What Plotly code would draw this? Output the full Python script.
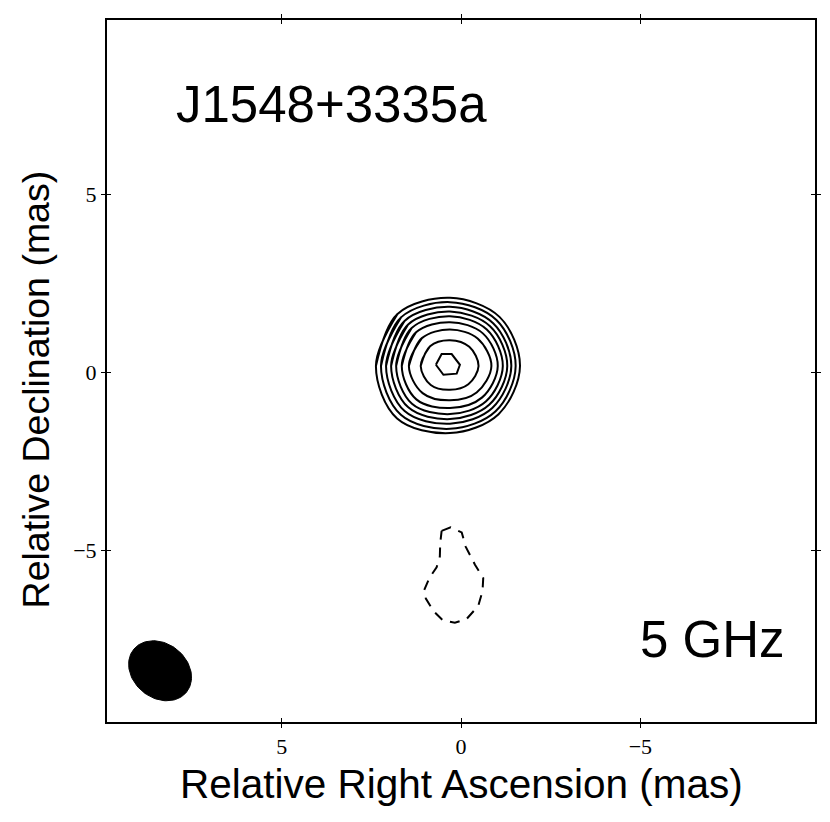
import numpy as np
import plotly.graph_objects as go

# ---------------- data ----------------
# Positive contours: centre of the component (mas) and the radius (mas)
# of each closed contour, read along 8 directions
# (angle measured from +RA / east towards north, in degrees)
SRC_X, SRC_Y = 0.307, 0.176
DIR_DEG = [0, 45, 90, 135, 180, 225, 270, 315]
RING_RADII = [
    [2.065, 2.070, 1.915, 1.952, 1.952, 1.915, 1.887, 2.085],
    [1.924, 1.932, 1.794, 1.831, 1.831, 1.799, 1.766, 1.938],
    [1.783, 1.792, 1.662, 1.701, 1.710, 1.668, 1.625, 1.789],
    [1.642, 1.651, 1.530, 1.580, 1.597, 1.545, 1.493, 1.645],
    [1.501, 1.510, 1.400, 1.451, 1.473, 1.413, 1.352, 1.499],
    [1.344, 1.338, 1.231, 1.296, 1.332, 1.258, 1.183, 1.327],
    [1.146, 1.107, 1.023, 1.089, 1.155, 1.051, 0.966, 1.079],
    [0.817, 0.786, 0.724, 0.761, 0.797, 0.724, 0.668, 0.758],
]
# innermost (peak) contour, vertices in mas
PEAK_X = [0.70, 0.54, 0.26, 0.03, 0.12, 0.49, 0.70]
PEAK_Y = [0.21, 0.51, 0.51, 0.21, -0.04, -0.07, 0.21]

# negative (dashed) contour, vertices in mas
NEG_X = [0.54, 0.29, -0.02, -0.13, -0.39, -0.62, -0.60, -0.48, -0.16, 0.17,
         0.51, 0.77, 0.98, 1.03, 0.88, 0.68, 0.59, 0.58, 0.54]
NEG_Y = [-4.46, -4.36, -4.50, -4.90, -5.41, -5.78, -6.15, -6.57, -6.93, -7.04,
         -6.97, -6.71, -6.36, -6.13, -5.78, -5.48, -5.18, -4.81, -4.46]

# restoring beam: centre (mas), semi-axes (mas), position angle (deg)
BEAM_X, BEAM_Y = 8.39, -8.39
BEAM_A, BEAM_B, BEAM_PA = 0.95, 0.76, 50.0

SOURCE_NAME = "J1548+3335a"
FREQ_LABEL = "5 GHz"
X_TICKS = [5, 0, -5]
Y_TICKS = [-5, 0, 5]
X_RANGE = [9.87, -9.87]
Y_RANGE = [-9.83, 9.90]

# ---------------- figure ----------------
fig = go.Figure()

ang = np.deg2rad(DIR_DEG)
for radii in RING_RADII:
    r = np.array(radii)
    xs = SRC_X + r * np.cos(ang)
    ys = SRC_Y + r * np.sin(ang)
    # wrap two points so the spline closes smoothly
    xs = np.concatenate([xs, xs[:2]])
    ys = np.concatenate([ys, ys[:2]])
    fig.add_trace(go.Scatter(x=xs, y=ys, mode="lines",
                             line=dict(color="black", width=2, shape="spline", smoothing=1.0),
                             hoverinfo="skip", showlegend=False))

fig.add_trace(go.Scatter(x=PEAK_X, y=PEAK_Y, mode="lines",
                         line=dict(color="black", width=2),
                         hoverinfo="skip", showlegend=False))

fig.add_trace(go.Scatter(x=NEG_X, y=NEG_Y, mode="lines",
                         line=dict(color="black", width=2, dash="10px,8px"),
                         hoverinfo="skip", showlegend=False))

t = np.linspace(0, 2 * np.pi, 100)
pa = np.deg2rad(BEAM_PA)
u = BEAM_A * np.cos(t)
v = BEAM_B * np.sin(t)
bx = BEAM_X + u * np.sin(pa) + v * np.cos(pa)
by = BEAM_Y + u * np.cos(pa) - v * np.sin(pa)
fig.add_trace(go.Scatter(x=bx, y=by, mode="lines", fill="toself",
                         fillcolor="black", line=dict(color="black", width=1),
                         hoverinfo="skip", showlegend=False))

# invisible trace on the overlay axes (inner ticks)
fig.add_trace(go.Scatter(x=[0], y=[0], xaxis="x2", yaxis="y2", mode="markers",
                         marker=dict(opacity=0), hoverinfo="skip", showlegend=False))

tick_font = dict(family="Liberation Serif, DejaVu Serif, serif", size=22, color="black")
common = dict(showgrid=False, zeroline=False, showline=True, linecolor="black",
              linewidth=2, ticks="outside", ticklen=4, tickwidth=1, tickcolor="black",
              mirror="ticks")

# the page body has an 8px default margin, so the figure is 8px smaller
fig.update_layout(
    width=822, height=814,
    margin=dict(l=99, r=15, t=6, b=100),
    paper_bgcolor="white", plot_bgcolor="white",
    showlegend=False,
    xaxis=dict(range=X_RANGE, tickvals=X_TICKS, tickfont=tick_font,
               ticklabelstandoff=0, **common),
    yaxis=dict(range=Y_RANGE, tickvals=Y_TICKS, tickfont=tick_font,
               ticklabelstandoff=0, **common),
    xaxis2=dict(overlaying="x", matches="x", range=X_RANGE, tickvals=X_TICKS,
                showticklabels=False, showgrid=False, zeroline=False, showline=False,
                ticks="inside", ticklen=4, tickwidth=1, tickcolor="black", mirror="ticks"),
    yaxis2=dict(overlaying="y", matches="y", range=Y_RANGE, tickvals=Y_TICKS,
                showticklabels=False, showgrid=False, zeroline=False, showline=False,
                ticks="inside", ticklen=4, tickwidth=1, tickcolor="black", mirror="ticks"),
)

label_font = dict(family="Liberation Sans, Arial, sans-serif", color="black")
fig.add_annotation(text=SOURCE_NAME, xref="paper", yref="paper", x=0.094, y=0.880,
                   xanchor="left", yanchor="middle", showarrow=False,
                   font=dict(size=51, **label_font))
fig.add_annotation(text=FREQ_LABEL, xref="paper", yref="paper", x=0.961, y=0.117,
                   xanchor="right", yanchor="middle", showarrow=False,
                   font=dict(size=51, **label_font))
fig.add_annotation(text="Relative Right Ascension (mas)", xref="paper", yref="paper",
                   x=0.5, y=-0.089, xanchor="center", yanchor="middle", showarrow=False,
                   font=dict(size=40.5, **label_font))
fig.add_annotation(text="Relative Declination (mas)", xref="paper", yref="paper",
                   x=-0.100, y=0.474, xanchor="center", yanchor="middle", textangle=-90,
                   showarrow=False, font=dict(size=37.5, **label_font))

fig.write_html("out.html")
